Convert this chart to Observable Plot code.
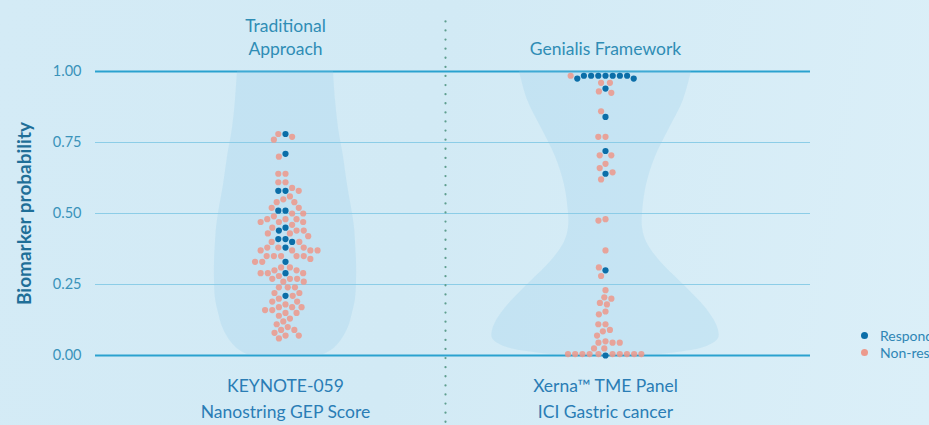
<!DOCTYPE html>
<html>
<head>
<meta charset="utf-8">
<script src="https://cdn.jsdelivr.net/npm/d3@7"></script>
<script src="https://cdn.jsdelivr.net/npm/@observablehq/plot@0.6"></script>
<style>
  html, body { margin: 0; padding: 0; width: 929px; height: 425px; overflow: hidden; }
  body { background: linear-gradient(100deg, #d4ebf6 0%, #d2eaf5 45%, #dbeff8 100%); font-family: Lato, "Open Sans", sans-serif; }
  #wrap { position: relative; width: 929px; height: 425px; }
  #wrap svg { position: absolute; left: 0; top: 0; background: transparent; }
  #legend { position: absolute; left: 861px; top: 327px; font-size: 14px; color: #2f86b5; line-height: 17px; white-space: nowrap; }
  #legend .row { display: flex; align-items: center; }
  #legend .dot { width: 7px; height: 7px; border-radius: 50%; margin-right: 12px; display: inline-block; }
</style>
</head>
<body>
<div id="wrap"></div>
<script>
// ---- data ----
const groups = ["Traditional", "Genialis"];
const groupTitles = ["Traditional\nApproach", "Genialis Framework"];
const groupLabels = ["KEYNOTE-059\nNanostring GEP Score", "Xerna™ TME Panel\nICI Gastric cancer"];
const statuses = ["Responder", "Non-responder"];
const statusColors = ["#0b6ea8", "#ec9a8d"];
const yTicks = [0, 0.25, 0.5, 0.75, 1];

const traditionalResponders = [0.78, 0.71, 0.58, 0.58, 0.51, 0.51, 0.45, 0.44, 0.41, 0.41, 0.40, 0.38, 0.33, 0.29, 0.21];
const traditionalNonResponders = [
  0.78, 0.77, 0.76, 0.70, 0.64, 0.64, 0.61, 0.61, 0.59, 0.58, 0.56, 0.55, 0.54, 0.54, 0.52, 0.52,
  0.50, 0.50, 0.49, 0.48, 0.48, 0.48, 0.47, 0.47, 0.47, 0.46, 0.45, 0.44, 0.44, 0.43, 0.43, 0.42,
  0.40, 0.40, 0.38, 0.38, 0.38, 0.37, 0.37, 0.37, 0.37, 0.35, 0.35, 0.35, 0.35, 0.35, 0.34, 0.33,
  0.33, 0.31, 0.31, 0.30, 0.30, 0.29, 0.29, 0.29, 0.28, 0.27, 0.27, 0.27, 0.26, 0.26, 0.24, 0.24,
  0.24, 0.22, 0.22, 0.21, 0.20, 0.19, 0.19, 0.18, 0.17, 0.17, 0.17, 0.16, 0.16, 0.15, 0.15, 0.14,
  0.13, 0.12, 0.11, 0.10, 0.09, 0.09, 0.08, 0.07, 0.07, 0.06
];
const genialisResponders = [0.985, 0.985, 0.985, 0.985, 0.985, 0.985, 0.985, 0.975, 0.975, 0.94, 0.84, 0.72, 0.64, 0.30, 0.0];
const genialisNonResponders = [
  0.985, 0.96, 0.96, 0.93, 0.925, 0.86, 0.77, 0.77, 0.705, 0.705, 0.675, 0.66, 0.645, 0.62,
  0.48, 0.475, 0.37, 0.31, 0.28, 0.23, 0.205, 0.20, 0.185, 0.18, 0.155, 0.145,
  0.11, 0.11, 0.09, 0.085, 0.07, 0.05, 0.045, 0.045, 0.045, 0.025, 0.025,
  0.005, 0.005, 0.005, 0.005, 0.005, 0.005, 0.005, 0.005, 0.005, 0.005
];

// violin density profiles (half-width, relative units) along probability
const violinY = [0, 0.01, 0.03, 0.06, 0.1, 0.15, 0.2, 0.26, 0.33, 0.4, 0.45, 0.5, 0.6, 0.7, 0.8, 0.9, 1.0];
const traditionalDensity = [0.35, 0.42, 0.50, 0.57, 0.63, 0.67, 0.70, 0.71, 0.71, 0.70, 0.69, 0.67, 0.62, 0.58, 0.53, 0.50, 0.48];
const genialisDensity = [0.40, 0.70, 1.00, 1.13, 1.12, 1.04, 0.92, 0.75, 0.55, 0.41, 0.37, 0.37, 0.41, 0.50, 0.64, 0.78, 0.86];

// ---- build tables ----
const dots = [
  ...traditionalResponders.map(v => ({group: groups[0], status: statuses[0], value: v})),
  ...traditionalNonResponders.map(v => ({group: groups[0], status: statuses[1], value: v})),
  ...genialisResponders.map(v => ({group: groups[1], status: statuses[0], value: v})),
  ...genialisNonResponders.map(v => ({group: groups[1], status: statuses[1], value: v}))
];
const violins = [
  ...violinY.map((y, i) => ({group: groups[0], y, w: traditionalDensity[i]})),
  ...violinY.map((y, i) => ({group: groups[1], y, w: genialisDensity[i]}))
];
const groupText = groups.map((g, i) => ({group: g, title: groupTitles[i], label: groupLabels[i]}));

const W = 929, H = 425, MT = 71, MB = 70;
const xDomain = [-1.6, 1.6];
const font = "Lato, 'Open Sans', sans-serif";

// ---- background layer: grid, y axis ----
const bg = Plot.plot({
  width: W, height: H,
  marginTop: MT, marginBottom: MB, marginLeft: 95, marginRight: 119,
  style: {background: "transparent", fontFamily: font, color: "#3a93ba"},
  y: {domain: [0, 1]},
  marks: [
    Plot.ruleY(yTicks, {
      stroke: d => (d === 0 || d === 1) ? "#2aa2cf" : "#8ccde7",
      strokeWidth: d => (d === 0 || d === 1) ? 1.8 : 1.1
    }),
    Plot.axisY({
      ticks: yTicks, tickFormat: d3.format(".2f"), tickSize: 0, tickPadding: 14, dx: 0,
      fontSize: 14.5, label: "Biomarker probability", labelAnchor: "center", labelOffset: 78, labelArrow: "none"
    })
  ]
});
d3.select(bg).selectAll('g[aria-label="y-axis label"] text')
  .attr("font-weight", "bold").attr("font-size", 19).attr("fill", "#1f6f98");

// ---- foreground layer: violins, dots, group texts ----
const fg = Plot.plot({
  width: W, height: H,
  marginTop: MT, marginBottom: MB, marginLeft: 125, marginRight: 164,
  style: {background: "transparent", fontFamily: font},
  fx: {domain: groups, padding: 0, axis: null},
  x: {domain: xDomain, axis: null},
  y: {domain: [0, 1], axis: null},
  color: {domain: statuses, range: statusColors},
  marks: [
    Plot.areaX(violins, {
      fx: "group", y: "y", x1: d => -d.w, x2: d => d.w,
      fill: "#8cc8e6", fillOpacity: 0.22, curve: "catmull-rom"
    }),
    Plot.ruleX(groupText.slice(1), {
      fx: "group", x: () => xDomain[0], y1: () => 1.175, y2: () => -0.25,
      stroke: "#5e9e8e", strokeWidth: 2.2, strokeDasharray: "0.1 9", strokeLinecap: "round"
    }),
    Plot.dot(dots, Plot.dodgeX("middle", {
      fx: "group", y: "value", fill: "status", r: 3.1, padding: 0.3, stroke: "none",
      fillOpacity: d => d.status === statuses[0] ? 1 : 0.88
    })),
    Plot.text(groupText, {
      fx: "group", text: "title", frameAnchor: "top", lineAnchor: "bottom", dy: -17,
      fontSize: 17.5, fill: "#2f8db5", lineHeight: 1.26
    }),
    Plot.text(groupText, {
      fx: "group", text: "label", frameAnchor: "bottom", lineAnchor: "top", dy: 18,
      fontSize: 17.5, fill: "#2a7db5", lineHeight: 1.49
    })
  ]
});

const wrap = document.getElementById("wrap");
wrap.appendChild(bg);
wrap.appendChild(fg);

// ---- legend ----
const legend = document.createElement("div");
legend.id = "legend";
statuses.forEach((s, i) => {
  const row = document.createElement("div");
  row.className = "row";
  const dot = document.createElement("span");
  dot.className = "dot";
  dot.style.background = statusColors[i];
  row.appendChild(dot);
  row.appendChild(document.createTextNode(s));
  legend.appendChild(row);
});
wrap.appendChild(legend);
</script>
</body>
</html>
